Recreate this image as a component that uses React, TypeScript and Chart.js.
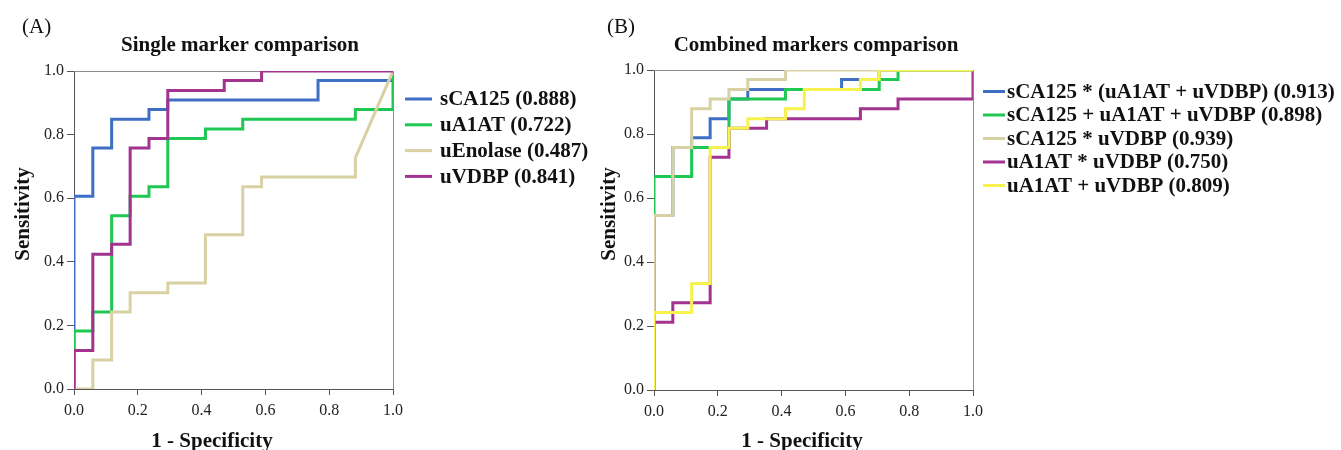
import React, { useEffect, useRef } from 'react';
import { Chart, registerables } from 'chart.js';

Chart.register(...registerables);

// ---------- shared axes ----------
const tickValues = [0, 0.2, 0.4, 0.6, 0.8, 1.0];
const tickLabels = ['0.0', '0.2', '0.4', '0.6', '0.8', '1.0'];
const xAxisTitle = '1 - Specificity';
const yAxisTitle = 'Sensitivity';

// ---------- Panel A: single markers ----------
const panelALabel = '(A)';
const panelATitle = 'Single marker comparison';
const singleLabels = ['sCA125 (0.888)', 'uA1AT (0.722)', 'uEnolase (0.487)', 'uVDBP (0.841)'];
const singleColors = ['#3f6fc4', '#1ec853', '#d8d1a3', '#a2338f'];

const sCA125X = [0, 0, 0.059, 0.059, 0.118, 0.118, 0.235, 0.235, 0.294, 0.294, 0.765, 0.765, 1, 1];
const sCA125Y = [0, 0.606, 0.606, 0.758, 0.758, 0.848, 0.848, 0.879, 0.879, 0.909, 0.909, 0.97, 0.97, 1];

const uA1ATX = [0, 0, 0.059, 0.059, 0.118, 0.118, 0.176, 0.176, 0.235, 0.235, 0.294, 0.294, 0.412, 0.412, 0.529, 0.529, 0.882, 0.882, 1, 1];
const uA1ATY = [0, 0.182, 0.182, 0.242, 0.242, 0.545, 0.545, 0.606, 0.606, 0.636, 0.636, 0.788, 0.788, 0.818, 0.818, 0.848, 0.848, 0.879, 0.879, 1];

const uEnolaseX = [0, 0.059, 0.059, 0.118, 0.118, 0.176, 0.176, 0.294, 0.294, 0.412, 0.412, 0.529, 0.529, 0.588, 0.588, 0.882, 0.882, 1];
const uEnolaseY = [0, 0, 0.091, 0.091, 0.242, 0.242, 0.303, 0.303, 0.333, 0.333, 0.485, 0.485, 0.636, 0.636, 0.667, 0.667, 0.727, 1];

const uVDBPX = [0, 0, 0.059, 0.059, 0.118, 0.118, 0.176, 0.176, 0.235, 0.235, 0.294, 0.294, 0.471, 0.471, 0.588, 0.588, 1];
const uVDBPY = [0, 0.121, 0.121, 0.424, 0.424, 0.455, 0.455, 0.758, 0.758, 0.788, 0.788, 0.939, 0.939, 0.97, 0.97, 1, 1];

// ---------- Panel B: combined markers ----------
const panelBLabel = '(B)';
const panelBTitle = 'Combined markers comparison';
const comboLabels = [
  'sCA125 * (uA1AT + uVDBP) (0.913)',
  'sCA125 + uA1AT + uVDBP (0.898)',
  'sCA125 * uVDBP (0.939)',
  'uA1AT * uVDBP (0.750)',
  'uA1AT + uVDBP (0.809)',
];
const comboColors = ['#3f6fc4', '#1ec853', '#d8d1a3', '#a2338f', '#f7f24e'];

const caTimesSumX = [0, 0, 0.059, 0.059, 0.118, 0.118, 0.176, 0.176, 0.235, 0.235, 0.294, 0.294, 0.588, 0.588, 0.706, 0.706, 1];
const caTimesSumY = [0, 0.545, 0.545, 0.758, 0.758, 0.788, 0.788, 0.848, 0.848, 0.909, 0.909, 0.939, 0.939, 0.97, 0.97, 1, 1];

const caPlusAllX = [0, 0, 0.118, 0.118, 0.235, 0.235, 0.412, 0.412, 0.706, 0.706, 0.765, 0.765, 1];
const caPlusAllY = [0, 0.667, 0.667, 0.758, 0.758, 0.909, 0.909, 0.939, 0.939, 0.97, 0.97, 1, 1];

const caTimesVdbpX = [0, 0, 0.059, 0.059, 0.118, 0.118, 0.176, 0.176, 0.235, 0.235, 0.294, 0.294, 0.412, 0.412, 1];
const caTimesVdbpY = [0, 0.545, 0.545, 0.758, 0.758, 0.879, 0.879, 0.909, 0.909, 0.939, 0.939, 0.97, 0.97, 1, 1];

const a1atTimesVdbpX = [0, 0, 0.059, 0.059, 0.176, 0.176, 0.235, 0.235, 0.353, 0.353, 0.647, 0.647, 0.765, 0.765, 1, 1];
const a1atTimesVdbpY = [0, 0.212, 0.212, 0.273, 0.273, 0.727, 0.727, 0.818, 0.818, 0.848, 0.848, 0.879, 0.879, 0.909, 0.909, 1];

const a1atPlusVdbpX = [0, 0, 0.118, 0.118, 0.176, 0.176, 0.235, 0.235, 0.294, 0.294, 0.412, 0.412, 0.471, 0.471, 0.647, 0.647, 0.706, 0.706, 1];
const a1atPlusVdbpY = [0, 0.242, 0.242, 0.333, 0.333, 0.758, 0.758, 0.818, 0.818, 0.848, 0.848, 0.879, 0.879, 0.939, 0.939, 0.97, 0.97, 1, 1];

const singleSeries = [
  [sCA125X, sCA125Y],
  [uA1ATX, uA1ATY],
  [uEnolaseX, uEnolaseY],
  [uVDBPX, uVDBPY],
];
const comboSeries = [
  [caTimesSumX, caTimesSumY],
  [caPlusAllX, caPlusAllY],
  [caTimesVdbpX, caTimesVdbpY],
  [a1atTimesVdbpX, a1atTimesVdbpY],
  [a1atPlusVdbpX, a1atPlusVdbpY],
];

const SERIF = '"Liberation Serif", "Times New Roman", serif';

type Decor = {
  id: string;
  panelLabel: string;
  panelLabelX: number;
  title: string;
  titleX: number;
  xTitleX: number;
  yTitleX: number;
  legendSampleX1: number;
  legendSampleX2: number;
  legendTextX: number;
  legendY0: number;
  legendDy: number;
  labels: string[];
  colors: string[];
};

function makeDecorPlugin(d: Decor) {
  return {
    id: d.id,
    beforeDatasetsDraw(chart: any) {
      const { ctx, chartArea: a } = chart;
      ctx.save();
      ctx.strokeStyle = '#8c8c8c';
      ctx.lineWidth = 1;
      ctx.beginPath();
      ctx.moveTo(Math.round(a.left), Math.round(a.top) + 0.5);
      ctx.lineTo(Math.round(a.right) + 0.5, Math.round(a.top) + 0.5);
      ctx.lineTo(Math.round(a.right) + 0.5, Math.round(a.bottom));
      ctx.stroke();
      ctx.restore();
    },
    afterDraw(chart: any) {
      const { ctx } = chart;
      ctx.save();
      ctx.fillStyle = '#111';
      // panel label
      ctx.font = `21px ${SERIF}`;
      ctx.textAlign = 'left';
      ctx.textBaseline = 'alphabetic';
      ctx.fillText(d.panelLabel, d.panelLabelX, 33);
      // title
      ctx.font = `bold 21px ${SERIF}`;
      ctx.textAlign = 'center';
      ctx.fillText(d.title, d.titleX, 51);
      // x axis title
      ctx.fillText(xAxisTitle, d.xTitleX, 447);
      // y axis title
      ctx.save();
      ctx.translate(d.yTitleX, 214);
      ctx.rotate(-Math.PI / 2);
      ctx.textAlign = 'center';
      ctx.textBaseline = 'alphabetic';
      ctx.fillText(yAxisTitle, 0, 0);
      ctx.restore();
      // legend
      ctx.font = `bold 21px ${SERIF}`;
      ctx.textAlign = 'left';
      ctx.textBaseline = 'middle';
      d.labels.forEach((lab, i) => {
        const y = d.legendY0 + i * d.legendDy;
        ctx.strokeStyle = d.colors[i];
        ctx.lineWidth = 3;
        ctx.beginPath();
        ctx.moveTo(d.legendSampleX1, y);
        ctx.lineTo(d.legendSampleX2, y);
        ctx.stroke();
        ctx.fillStyle = '#111';
        ctx.fillText(lab, d.legendTextX, y + 1);
      });
      ctx.restore();
    },
  };
}

type PanelProps = {
  left: number;
  width: number;
  yAxisWidth: number;
  plotRight: number;
  plotTop: number;
  xAxisHeight: number;
  series: number[][][];
  labels: string[];
  colors: string[];
  decor: Decor;
};

function Panel(p: PanelProps) {
  const ref = useRef<HTMLCanvasElement | null>(null);
  useEffect(() => {
    if (!ref.current) return;
    const datasets = p.series.map(([xs, ys], i) => ({
      label: p.labels[i],
      data: xs.map((x, k) => ({ x, y: ys[k] })),
      borderColor: p.colors[i],
      backgroundColor: p.colors[i],
      borderWidth: 3,
      pointRadius: 0,
      tension: 0,
      fill: false,
      order: -i,
    }));
    const tickFont = { family: SERIF, size: 16 };
    const chart = new Chart(ref.current, {
      type: 'line',
      data: { datasets },
      options: {
        responsive: false,
        animation: false,
        devicePixelRatio: 1,
        layout: { padding: { top: p.plotTop, right: p.width - p.plotRight, left: 0, bottom: 0 } },
        plugins: { legend: { display: false }, tooltip: { enabled: false }, title: { display: false } },
        scales: {
          x: {
            type: 'linear',
            min: 0,
            max: 1,
            afterBuildTicks: (s: any) => { s.ticks = tickValues.map((v) => ({ value: v })); },
            afterFit: (s: any) => { s.height = p.xAxisHeight; },
            ticks: {
              font: tickFont,
              color: '#222',
              padding: 6,
              maxRotation: 0,
              callback: (_v: any, i: number) => tickLabels[i],
            },
            grid: { drawOnChartArea: false, drawTicks: true, tickLength: 6, color: '#555' },
            border: { display: true, color: '#555', width: 1 },
          },
          y: {
            type: 'linear',
            min: 0,
            max: 1,
            afterBuildTicks: (s: any) => { s.ticks = tickValues.map((v) => ({ value: v })); },
            afterFit: (s: any) => { s.width = p.yAxisWidth; },
            ticks: {
              font: tickFont,
              color: '#222',
              padding: 3,
              callback: (_v: any, i: number) => tickLabels[i],
            },
            grid: { drawOnChartArea: false, drawTicks: true, tickLength: 7, color: '#555' },
            border: { display: true, color: '#555', width: 1 },
          },
        },
      },
      plugins: [makeDecorPlugin(p.decor)],
    } as any);
    return () => chart.destroy();
  }, []);
  return (
    <canvas
      ref={ref}
      width={p.width}
      height={450}
      style={{ position: 'absolute', left: p.left, top: 0, width: p.width, height: 450, display: 'block' }}
    />
  );
}

export default function App() {
  useEffect(() => {
    document.body.style.margin = '0';
    document.body.style.background = '#fff';
  }, []);
  return (
    <div style={{ position: 'relative', width: 1341, height: 450, background: '#fff', overflow: 'hidden' }}>
      <Panel
        left={0}
        width={600}
        yAxisWidth={74}
        plotRight={393}
        plotTop={71}
        xAxisHeight={61}
        series={singleSeries}
        labels={singleLabels}
        colors={singleColors}
        decor={{
          id: 'decorA',
          panelLabel: panelALabel,
          panelLabelX: 22,
          title: panelATitle,
          titleX: 240,
          xTitleX: 212,
          yTitleX: 29,
          legendSampleX1: 405,
          legendSampleX2: 432,
          legendTextX: 440,
          legendY0: 99,
          legendDy: 25.8,
          labels: singleLabels,
          colors: singleColors,
        }}
      />
      <Panel
        left={600}
        width={741}
        yAxisWidth={54}
        plotRight={373}
        plotTop={70}
        xAxisHeight={60}
        series={comboSeries}
        labels={comboLabels}
        colors={comboColors}
        decor={{
          id: 'decorB',
          panelLabel: panelBLabel,
          panelLabelX: 7,
          title: panelBTitle,
          titleX: 216,
          xTitleX: 202,
          yTitleX: 15,
          legendSampleX1: 383,
          legendSampleX2: 405,
          legendTextX: 407,
          legendY0: 91.5,
          legendDy: 23.5,
          labels: comboLabels,
          colors: comboColors,
        }}
      />
    </div>
  );
}
